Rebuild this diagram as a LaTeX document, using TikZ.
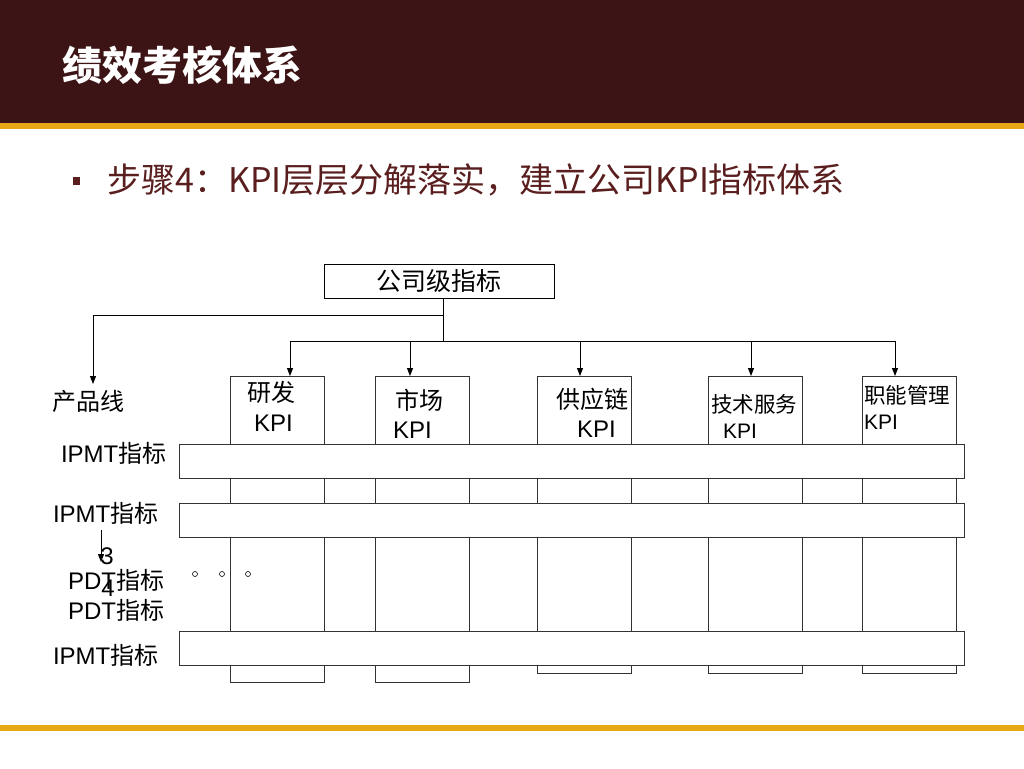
\documentclass[tikz,border=0pt]{standalone}
\usepackage{fontspec}
\setmainfont{Liberation Sans}
\newfontfamily\cjk{Noto Sans CJK SC}
\usetikzlibrary{arrows.meta,calc}
\definecolor{hdr}{HTML}{3C1415}
\definecolor{gold}{HTML}{E6A817}
\definecolor{sub}{HTML}{5A1E1E}
\definecolor{ln}{HTML}{333333}
\begin{document}
\begin{tikzpicture}[x=1pt,y=-1pt,
 col/.style={draw=ln,line width=1pt,fill=white,inner sep=0,outer sep=0,minimum width=94pt,anchor=north west},
 band/.style={draw=ln,line width=1pt,fill=white,inner sep=0,outer sep=0,minimum width=785pt,minimum height=34pt,anchor=north west},
 lbl/.style={inner sep=0,outer sep=0,font=\fontsize{24}{24}\selectfont,anchor=west},
 lbls/.style={lbl,font=\fontsize{21}{21}\selectfont},
 cjkl/.style={lbl,font=\cjk\fontsize{24}{24}\selectfont},
 cjks/.style={lbl,font=\cjk\fontsize{21.5}{21.5}\selectfont},
 arr/.style={line width=1pt,-{Triangle[length=8pt,width=6pt]}},
 conn/.style={line width=1pt}]
\useasboundingbox (0,0) rectangle (1024,768);
\fill[white] (0,0) rectangle (1024,768);
\fill[hdr] (0,0) rectangle (1024,123);
\fill[gold] (0,123) rectangle (1024,129);
\fill[gold] (0,725) rectangle (1024,731);
\node[anchor=west,inner sep=0,text=white,font=\cjk\bfseries\fontsize{40}{40}\selectfont] (title) at (62,65) {绩效考核体系};
\fill[sub] (73,177) rectangle (80,185);
\node[anchor=west,inner sep=0,text=sub,font=\cjk\fontsize{34}{34}\selectfont] (subt) at (107,180) {步骤4：KPI层层分解落实，建立公司KPI指标体系};
% company box
\node[draw=black,line width=1pt,inner sep=0,outer sep=0,minimum width=230pt,minimum height=34pt,anchor=north west,font=\cjk\fontsize{25}{25}\selectfont] (top) at (324,264) {公司级指标};
% columns
\node[col,minimum height=306pt] (c1) at (230,376) {};
\node[col,minimum height=306pt] (c2) at (375,376) {};
\node[col,minimum height=297pt] (c3) at (537,376) {};
\node[col,minimum height=297pt] (c4) at (708,376) {};
\node[col,minimum height=297pt] (c5) at (862,376) {};
% bands
\node[band] (b1) at (179,444) {};
\node[band] (b2) at (179,503) {};
\node[band] (b3) at (179,631) {};
% column texts
\node[cjkl] (t1a) at (247,392) {研发};
\node[lbl] (t1b) at (254,423) {KPI};
\node[cjkl] (t2a) at (395,400) {市场};
\node[lbl] (t2b) at (393,430) {KPI};
\node[cjkl] (t3a) at (556,399) {供应链};
\node[lbl] (t3b) at (577,429) {KPI};
\node[cjks] (t4a) at (711,404) {技术服务};
\node[lbls] (t4b) at (723,431) {KPI};
\node[cjks] (t5a) at (864,395) {职能管理};
\node[lbls] (t5b) at (864,422) {KPI};
% left labels
\node[cjkl] (pl) at (52,401) {产品线};
\node[lbl] (i1) at (61,453) {IPMT{\cjk 指标}};
\node[lbl] (i2) at (53,513) {IPMT{\cjk 指标}};
\node[lbl] (p1) at (68,580) {PDT{\cjk 指标}};
\node[lbl] (p2) at (68,610) {PDT{\cjk 指标}};
\node[lbl] (i3) at (53,655) {IPMT{\cjk 指标}};
\node[lbl,anchor=center] (n3) at (107,556) {3};
\node[lbl,anchor=center] (n4) at (108,588) {4};
\coordinate (ar1) at (101,530);
\coordinate (ar2) at (101,562);
\draw[arr] (ar1) -- (ar2);
\foreach \x [count=\i] in {195,222,248} \draw[line width=0.6pt] (\x,574) circle (2.5pt);
% connectors
\coordinate (j1) at (443,315);
\coordinate (j2) at (443,341);
\coordinate (plt) at (93,384);
\draw[conn] (top.south -| j1) -- (j2);
\draw[arr] (j1) -- (j1 -| plt) -- (plt);
\coordinate (a1) at (290,341);
\coordinate (a2) at (410,341);
\coordinate (a3) at (580,341);
\coordinate (a4) at (751,341);
\coordinate (a5) at (895,341);
\draw[conn] (a1) -- (a5);
\draw[arr] (a1) -- (a1 |- c1.north);
\draw[arr] (a2) -- (a2 |- c2.north);
\draw[arr] (a3) -- (a3 |- c3.north);
\draw[arr] (a4) -- (a4 |- c4.north);
\draw[arr] (a5) -- (a5 |- c5.north);
\end{tikzpicture}
\end{document}
